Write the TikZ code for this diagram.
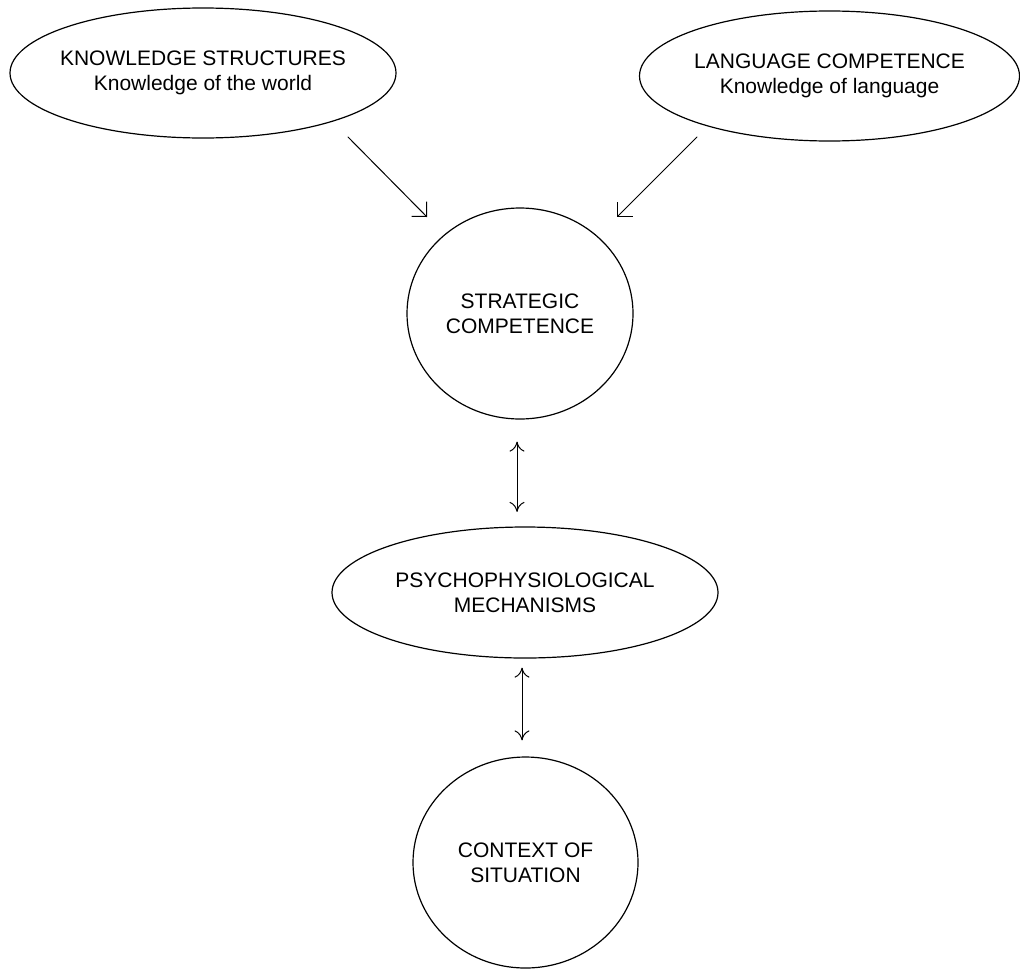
\documentclass[tikz,border=0pt]{standalone}
\usepackage{fontspec}
\setmainfont{Liberation Sans}
\usetikzlibrary{arrows.meta,shapes.geometric}

\begin{document}
\begin{tikzpicture}[line cap=round,line join=round,x=0.5pt,y=-0.5pt,
  oval/.style={draw,ellipse,line width=0.6pt,inner ysep=0pt,inner xsep=-10pt,align=center,font=\fontsize{10.5}{12.5}\selectfont},
  arr/.style={line width=0.5pt,-{Straight Barb[length=5.3pt,width=10.6pt]}},
  dbl/.style={line width=0.5pt,{To[length=5pt,width=7.5pt]}-{To[length=5pt,width=7.5pt]}}]
\useasboundingbox (0,0) rectangle (1020,969);
\node[oval,minimum width=193pt,minimum height=65pt] (ks) at (203,73) {KNOWLEDGE STRUCTURES\\Knowledge of the world};
\node[oval,minimum width=190pt,minimum height=65pt] (lc) at (829.5,76) {LANGUAGE COMPETENCE\\Knowledge of language};
\node[oval,minimum width=113pt,minimum height=105.5pt] (sc) at (520,313.5) {STRATEGIC\\COMPETENCE};
\node[oval,minimum width=193pt,minimum height=65.5pt] (pm) at (525,592.5) {PSYCHOPHYSIOLOGICAL\\MECHANISMS};
\node[oval,minimum width=112.5pt,minimum height=105.5pt] (ct) at (525.5,862.5) {CONTEXT OF\\SITUATION};
\draw[arr] ([shift={(145,64)}]ks.center) -- ([shift={(-93,-96.5)}]sc.center);
\draw[arr] ([shift={(-132.5,61)}]lc.center) -- ([shift={(97,-96.5)}]sc.center);
\draw[dbl] ([shift={(-3,22)}]sc.south) -- ([shift={(-8,-14.5)}]pm.north);
\draw[dbl] ([shift={(-3,9)}]pm.south) -- ([shift={(-3.5,-16)}]ct.north);
\end{tikzpicture}
\end{document}
